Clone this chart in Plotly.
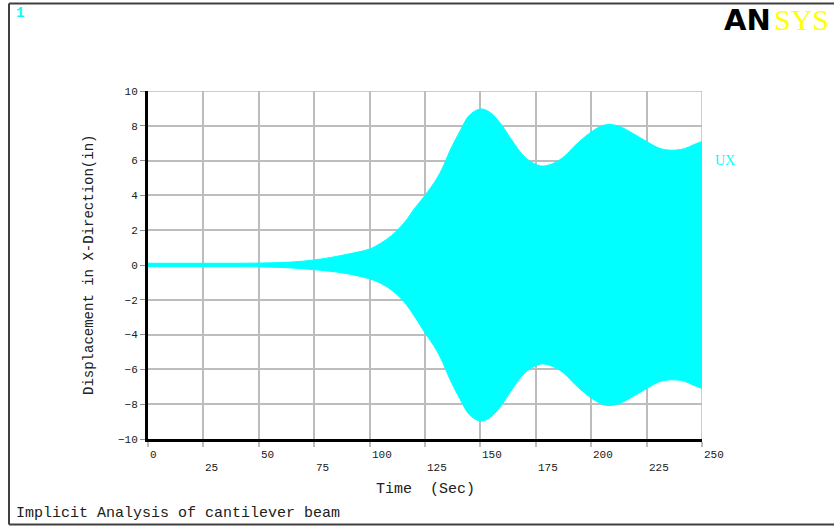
import plotly.graph_objects as go

# Envelope of the UX response
time = [0, 10, 20, 30, 40, 50, 60, 70, 80, 90, 100, 105, 110, 114, 117, 120, 125, 130, 133,
        136, 141, 145, 150, 154, 159, 163, 168, 172, 177, 181, 187, 193, 199, 204, 208,
        213, 219, 225, 231, 236, 242, 246, 250]
ux_upper = [0.1, 0.1, 0.1, 0.1, 0.1, 0.11, 0.14, 0.22, 0.38, 0.62, 0.92, 1.25, 1.7, 2.2,
            2.65, 3.2, 4.0, 4.9, 5.6, 6.5, 7.75, 8.6, 8.97, 8.8, 8.15, 7.4, 6.5, 6.0, 5.7, 5.75,
            6.15, 6.9, 7.55, 7.95, 8.08, 7.95, 7.55, 7.1, 6.7, 6.6, 6.68, 6.9, 7.1]
ux_lower = [-0.1, -0.1, -0.1, -0.1, -0.1, -0.11, -0.14, -0.22, -0.33, -0.5, -0.8, -1.05,
            -1.45, -1.9, -2.35, -2.9, -3.9, -4.85, -5.6, -6.5, -7.75, -8.6, -8.97, -8.8, -8.15,
            -7.4, -6.5, -6.0, -5.7, -5.75, -6.15, -6.9, -7.55, -7.95, -8.08, -7.95, -7.55,
            -7.1, -6.7, -6.6, -6.68, -6.9, -7.1]

x_ticks_row1 = [0, 50, 100, 150, 200, 250]
x_ticks_row2 = [25, 75, 125, 175, 225]
y_ticks = [-10, -8, -6, -4, -2, 0, 2, 4, 6, 8, 10]

CYAN = "#00ffff"
MONO = "Liberation Mono"

# plot area in pixels
L, R, T, B = 148, 702, 91, 439
W, H = 834, 527


def px(xp):
    return (xp - L) / (R - L)


def py(yp):
    return (B - yp) / (B - T)


fig = go.Figure()
fig.add_trace(go.Scatter(x=time, y=ux_upper, mode="lines", line_shape="spline",
                         line=dict(color=CYAN, width=1), hoverinfo="skip",
                         showlegend=False))
fig.add_trace(go.Scatter(x=time, y=ux_lower, mode="lines", fill="tonexty", line_shape="spline",
                         fillcolor=CYAN, line=dict(color=CYAN, width=1),
                         hoverinfo="skip", showlegend=False))

annotations = []
for t in x_ticks_row1:
    annotations.append(dict(x=t, xref="x", y=py(455), yref="paper", text=str(t),
                            showarrow=False, xanchor="left", yanchor="middle", xshift=0,
                            font=dict(family=MONO, size=11, color="#202020")))
for t in x_ticks_row2:
    annotations.append(dict(x=t, xref="x", y=py(468), yref="paper", text=str(t),
                            showarrow=False, xanchor="left", yanchor="middle",
                            font=dict(family=MONO, size=11, color="#202020")))

annotations += [
    dict(x=px(425), y=py(489), xref="paper", yref="paper", text="Time  (Sec)",
         showarrow=False, xanchor="center", yanchor="middle",
         font=dict(family=MONO, size=15, color="#202020")),
    dict(x=px(89), y=py(265), xref="paper", yref="paper",
         text="Displacement in X-Direction(in)", textangle=-90,
         showarrow=False, xanchor="center", yanchor="middle",
         font=dict(family=MONO, size=14, color="#202020")),
    dict(x=px(14), y=py(513), xref="paper", yref="paper",
         text="Implicit Analysis of cantilever beam",
         showarrow=False, xanchor="left", yanchor="middle",
         font=dict(family=MONO, size=15, color="#202020")),
    dict(x=px(14), y=py(13), xref="paper", yref="paper", text="<b>1</b>",
         showarrow=False, xanchor="left", yanchor="middle",
         font=dict(family=MONO, size=14, color=CYAN)),
    dict(x=px(713), y=py(160), xref="paper", yref="paper", text="UX",
         showarrow=False, xanchor="left", yanchor="middle",
         font=dict(family="Liberation Serif", size=14, color=CYAN)),
    dict(x=px(773), y=py(20), xref="paper", yref="paper", text="<b>AN</b>",
         showarrow=False, xanchor="right", yanchor="middle",
         font=dict(family="DejaVu Sans", size=29, color="#000000")),
    dict(x=px(772), y=py(20), xref="paper", yref="paper", text="SYS",
         showarrow=False, xanchor="left", yanchor="middle",
         font=dict(family="Liberation Serif", size=30, color="#ffff00")),
]

frame_col = "#404040"
shapes = [
    dict(type="line", xref="paper", yref="paper", x0=px(9), x1=px(9), y0=py(3.5), y1=py(524.5),
         line=dict(color=frame_col, width=2)),
    dict(type="line", xref="paper", yref="paper", x0=px(9), x1=px(834), y0=py(3.5), y1=py(3.5),
         line=dict(color=frame_col, width=2)),
    dict(type="line", xref="paper", yref="paper", x0=px(9), x1=px(834), y0=py(524.5), y1=py(524.5),
         line=dict(color=frame_col, width=2)),
    # top and right grid borders
    dict(type="line", xref="x", yref="y", x0=0, x1=250, y0=10, y1=10,
         line=dict(color="#bdbdbd", width=1.5), layer="below"),
    dict(type="line", xref="x", yref="y", x0=250, x1=250, y0=-10, y1=10,
         line=dict(color="#bdbdbd", width=1.5), layer="below"),
]

fig.update_layout(
    width=W, height=H,
    margin=dict(l=L, r=W - R, t=T, b=H - B, pad=0),
    paper_bgcolor="#ffffff", plot_bgcolor="#ffffff",
    showlegend=False,
    annotations=annotations,
    shapes=shapes,
    xaxis=dict(range=[0, 250], tickvals=x_ticks_row1 + x_ticks_row2,
               showticklabels=False, ticks="outside", ticklen=5,
               tickcolor="#bdbdbd", tickwidth=1.5,
               showgrid=True, gridcolor="#bdbdbd", gridwidth=1.5,
               showline=True, linecolor="#000000", linewidth=3,
               zeroline=False, fixedrange=True),
    yaxis=dict(range=[-10, 10], tickvals=y_ticks,
               ticks="outside", ticklen=5, tickcolor="#909090", tickwidth=1,
               tickfont=dict(family=MONO, size=11, color="#202020"),
               showgrid=True, gridcolor="#bdbdbd", gridwidth=1.5,
               showline=True, linecolor="#000000", linewidth=3,
               zeroline=False, fixedrange=True),
)

fig.write_html("out.html", config={"displayModeBar": False},
               post_script="document.body.style.margin='0';document.body.style.overflow='hidden';")
